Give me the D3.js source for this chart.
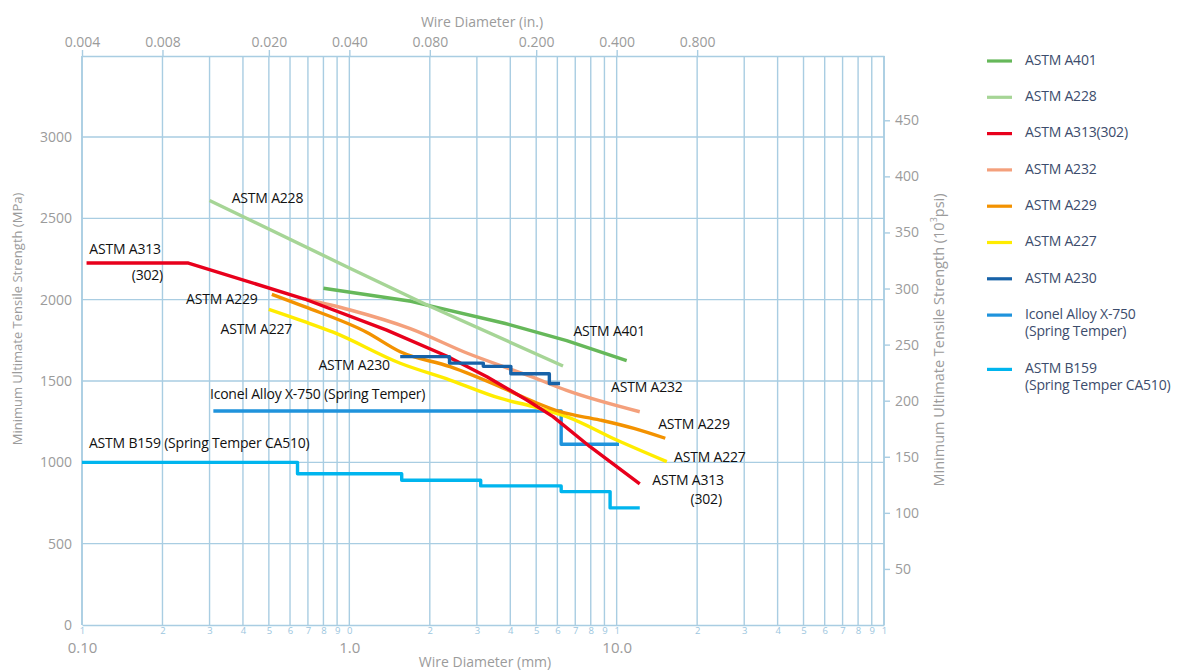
<!DOCTYPE html>
<html><head><meta charset="utf-8">
<script src="https://cdn.jsdelivr.net/npm/d3@7"></script>
<style>body{margin:0;background:#fff;} svg{display:block;}</style>
</head><body><svg id="c" width="1184" height="672"></svg>
<script>
// ---- data (wire diameter in mm, strength in MPa) ----
const a401 = [[0.8,2070],[1.7,1990],[3.8,1855],[6.5,1748],[10.9,1625]];
const a228 = [[0.3,2610],[1.0,2195],[2.0,1960],[6.3,1592]];
const a313 = [[0.104,2225],[0.25,2225],[0.68,2004],[1.38,1813],[2.31,1654],[3.27,1526],[4.61,1383],[5.78,1281],[7.95,1096],[12.2,867]];
const a232 = [[0.68,2004],[1.0,1938],[1.69,1822],[2.75,1672],[4.88,1522],[6.5,1442],[12.2,1311]];
const a229 = [[0.513,2033],[0.68,1957],[1.16,1800],[1.55,1680],[2.38,1588],[3.66,1465],[4.88,1373],[6.14,1311],[8.67,1260],[11.6,1209],[15.2,1148]];
const a227 = [[0.5,1941],[0.68,1865],[0.87,1800],[1.55,1609],[2.38,1506],[3.66,1394],[4.88,1342],[6.5,1281],[10,1137],[15.4,1004]];
const a230 = [[1.55,1650],[2.37,1610],[3.17,1590],[4.02,1545],[5.6,1485],[6.14,1485]];
const iconel = [[0.31,1316],[6.2,1111],[10.2,1111]];
const b159 = [[0.1,1000],[0.64,930],[1.57,890],[3.1,855],[6.2,820],[9.45,720],[12.2,720]];

const seriesNames = ["ASTM A401","ASTM A228","ASTM A313(302)","ASTM A232","ASTM A229","ASTM A227","ASTM A230","Iconel Alloy X-750|(Spring Temper)","ASTM B159|(Spring Temper CA510)"];
const seriesColors = ["#66b85a","#a6d596","#e8001c","#f4a07c","#f39200","#ffec00","#1762a8","#1f93dc","#00b5ee"];
const seriesData = [a401,a228,a313,a232,a229,a227,a230,iconel,b159];
const seriesCurve = ["linear","linear","linear","smooth","smooth","smooth","step","step","step"];
const drawOrder = [8,7,5,4,3,2,6,0,1];

const mpaTicks = [0,500,1000,1500,2000,2500,3000];
const ksiTicks = [50,100,150,200,250,300,350,400,450];
const inchTicks = [0.004,0.008,0.020,0.040,0.080,0.200,0.400,0.800];
const mmMajorTicks = [0.1,1,10];
const mmMajorLabels = ["0.10","1.0","10.0"];
const mmMinorTicks = [0.1,0.2,0.3,0.4,0.5,0.6,0.7,0.8,0.9,1,2,3,4,5,6,7,8,9,10,20,30,40,50,60,70,80,90,100];
const mmMinorLabels = ["1","2","3","4","5","6","7","8","9","0","2","3","4","5","6","7","8","9","1","2","3","4","5","6","7","8","9","1"];

// in-plot labels, anchored at [mm, MPa]
const plotLabels = [
  ["ASTM A228",0.363,2617],
  ["ASTM A313",0.1065,2305],
  ["(302)",0.1535,2141],
  ["ASTM A229",0.245,1994],
  ["ASTM A227",0.330,1813],
  ["ASTM A230",0.766,1592],
  ["Iconel Alloy X-750 (Spring Temper)",0.301,1414],
  ["ASTM B159 (Spring Temper CA510)",0.1062,1113],
  ["ASTM A401",6.89,1799],
  ["ASTM A232",9.53,1455],
  ["ASTM A229",14.3,1229],
  ["ASTM A227",16.4,1025],
  ["ASTM A313",13.6,885],
  ["(302)",18.9,768]
];

// ---- layout ----
const L=82, R=884, T=56, B=625;
const grid = "#a9cde2";
const gray = "#9b9b9b";
const svg = d3.select("#c");
const x = d3.scaleLog().domain([0.1,100]).range([L,R]);
const xIn = d3.scaleLog().domain([0.004,4]).range([L,R]);
const y = d3.scaleLinear().domain([0,3000]).range([B,137]);
const yKsi = d3.scaleLinear().domain([0,3000/6.895]).range([B,137]);

// grid
const g = svg.append("g");
g.selectAll("line.v").data(mmMinorTicks).join("line")
  .attr("x1",d=>x(d)).attr("x2",d=>x(d)).attr("y1",T).attr("y2",B)
  .attr("stroke",grid).attr("stroke-width",1.4);
g.selectAll("line.h").data(mpaTicks.slice(1)).join("line")
  .attr("x1",L).attr("x2",R).attr("y1",d=>y(d)).attr("y2",d=>y(d))
  .attr("stroke",grid).attr("stroke-width",1.4);

function styleAxis(sel, size){
  sel.selectAll("path.domain").attr("stroke",grid).attr("stroke-width",1.6);
  sel.selectAll(".tick line").attr("stroke",grid).attr("stroke-width",1.4);
  sel.selectAll(".tick text").attr("fill",gray).style("font-family","'Open Sans'").style("font-size",size+"px");
}
// top axis (inches)
const ax1 = svg.append("g").attr("transform",`translate(0,${T})`)
  .call(d3.axisTop(xIn).tickValues(inchTicks).tickFormat(d3.format(".3f")).tickSize(6).tickSizeOuter(0).tickPadding(3));
styleAxis(ax1,14);
// bottom axis minor labels
const ax2 = svg.append("g").attr("transform",`translate(0,${B})`)
  .call(d3.axisBottom(x).tickValues(mmMinorTicks).tickFormat((d,i)=>mmMinorLabels[i]).tickSize(0).tickSizeOuter(0).tickPadding(2));
styleAxis(ax2,9.5);
ax2.selectAll(".tick text").attr("fill","#9cc6de");
// bottom major labels
const ax3 = svg.append("g").attr("transform",`translate(0,${B})`)
  .call(d3.axisBottom(x).tickValues(mmMajorTicks).tickFormat((d,i)=>mmMajorLabels[i]).tickSize(0).tickSizeOuter(0).tickPadding(17));
styleAxis(ax3,15);
ax3.select("path.domain").remove();
// left axis
const ax4 = svg.append("g").attr("transform",`translate(${L},0)`)
  .call(d3.axisLeft(y).tickValues(mpaTicks).tickFormat(d3.format("d")).tickSize(0).tickSizeOuter(0).tickPadding(10));
styleAxis(ax4,14);
ax4.select("path.domain").attr("d",`M0,${T}V${B}`);
// right axis
const ax5 = svg.append("g").attr("transform",`translate(${R},0)`)
  .call(d3.axisRight(yKsi).tickValues(ksiTicks).tickFormat(d3.format("d")).tickSize(6).tickSizeOuter(0).tickPadding(5));
styleAxis(ax5,14);
ax5.select("path.domain").attr("d",`M0,${T}V${B}`);

// axis titles
const tfont = "'Open Sans'";
svg.append("text").attr("x",482).attr("y",23).attr("text-anchor","middle").attr("dominant-baseline","middle")
  .attr("fill",gray).style("font-family",tfont).style("font-size","14px").text("Wire Diameter (in.)");
svg.append("text").attr("x",485).attr("y",663).attr("text-anchor","middle").attr("dominant-baseline","middle")
  .attr("fill",gray).style("font-family",tfont).style("font-size","14px").text("Wire Diameter (mm)");
svg.append("text").attr("transform","translate(19,319) rotate(-90)").attr("text-anchor","middle").attr("dominant-baseline","middle")
  .attr("fill",gray).style("font-family",tfont).style("font-size","13px").text("Minimum Ultimate Tensile Strength (MPa)");
const rt = svg.append("text").attr("transform","translate(940,340) rotate(-90)").attr("text-anchor","middle").attr("dominant-baseline","middle")
  .attr("fill",gray).style("font-family",tfont).style("font-size","14.5px");
rt.append("tspan").text("Minimum Ultimate Tensile Strength (10");
rt.append("tspan").attr("dy","-5").style("font-size","9px").text("3");
rt.append("tspan").attr("dy","5").text("psi)");

// series
const curves = {linear:d3.curveLinear, smooth:d3.curveMonotoneX, step:d3.curveStepAfter};
drawOrder.forEach(i=>{
  const ln = d3.line().x(d=>x(d[0])).y(d=>y(d[1])).curve(curves[seriesCurve[i]]);
  svg.append("path").attr("d",ln(seriesData[i]))
    .attr("fill","none").attr("stroke",seriesColors[i]).attr("stroke-width",3.4)
    .attr("stroke-linejoin","round");
});

// in-plot labels
svg.selectAll("text.pl").data(plotLabels).join("text")
  .attr("x",d=>x(d[1])).attr("y",d=>y(d[2])).attr("dominant-baseline","middle")
  .attr("fill","#111").style("font-family","'Open Sans'").style("font-size","14px").style("letter-spacing","-0.2px")
  .text(d=>d[0]);

// legend
seriesNames.forEach((n,i)=>{
  const ly = 61 + i*36.3 + (i===8?18:0);
  svg.append("line").attr("x1",987).attr("x2",1012).attr("y1",ly).attr("y2",ly)
    .attr("stroke",seriesColors[i]).attr("stroke-width",3.2);
  n.split("|").forEach((t,k)=>{
    svg.append("text").attr("x",1025).attr("y",ly+k*17).attr("dominant-baseline","middle")
      .attr("fill","#3c4c6c").style("font-family","'Open Sans'").style("font-size","14px").style("letter-spacing","-0.2px").text(t);
  });
});
</script></body></html>
